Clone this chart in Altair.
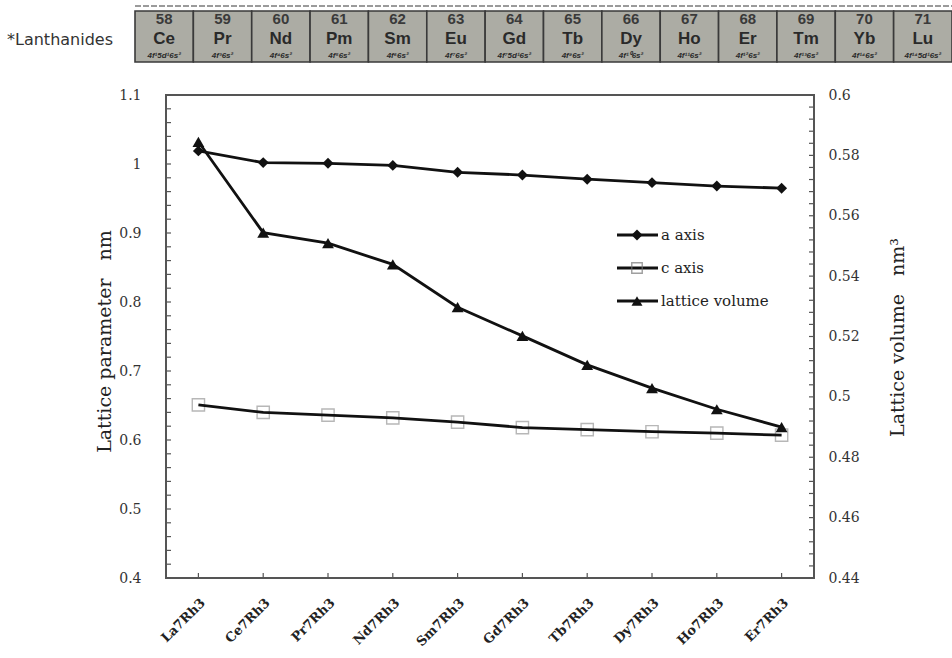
import altair as alt
import numpy as np
import pandas as pd

# R7Rh3 lattice data
compounds = ["La7Rh3", "Ce7Rh3", "Pr7Rh3", "Nd7Rh3", "Sm7Rh3",
             "Gd7Rh3", "Tb7Rh3", "Dy7Rh3", "Ho7Rh3", "Er7Rh3"]
a_axis = [1.019, 1.002, 1.001, 0.998, 0.988, 0.984, 0.978, 0.973, 0.968, 0.965]
c_axis = [0.651, 0.640, 0.636, 0.632, 0.626, 0.618, 0.615, 0.612, 0.610, 0.607]
volume = [0.5845, 0.5544, 0.5509, 0.5439, 0.5297, 0.5202, 0.5106, 0.5029, 0.4959, 0.4900]

# Lanthanide row of the periodic table
lan_numbers = ["58", "59", "60", "61", "62", "63", "64", "65", "66", "67", "68", "69", "70", "71"]
lan_symbols = ["Ce", "Pr", "Nd", "Pm", "Sm", "Eu", "Gd", "Tb", "Dy", "Ho", "Er", "Tm", "Yb", "Lu"]
lan_configs = ["4f¹5d¹6s²", "4f³6s²", "4f⁴6s²", "4f⁵6s²", "4f⁶6s²", "4f⁷6s²", "4f⁷5d¹6s²",
               "4f⁹6s²", "4f¹⁰6s²", "4f¹¹6s²", "4f¹²6s²", "4f¹³6s²", "4f¹⁴6s²", "4f¹⁴5d¹6s²"]

legend_labels = ["a axis", "c axis", "lattice volume"]

left_ticks = np.round(np.arange(0.40, 1.1001, 0.02), 3)
right_ticks = np.round(np.arange(0.44, 0.6001, 0.004), 3)

W, H = 648, 483
SERIF = "DejaVu Serif"
SANS = "Liberation Sans"
INK = "#111111"
FRAME = "#555555"
GAP = "\u00a0\u00a0\u00a0"

df = pd.DataFrame({"compound": compounds, "a": a_axis, "c": c_axis, "v": volume})

x_main = alt.X(
    "compound:N", sort=compounds,
    scale=alt.Scale(type="point", padding=0.5),
    axis=alt.Axis(title=None, labelAngle=315, ticks=False, domain=False, grid=False,
                  labelFont=SERIF, labelFontSize=13, labelFontWeight="bold",
                  labelColor="#222222", labelPadding=18),
)
x_hidden = alt.X("compound:N", sort=compounds,
                 scale=alt.Scale(type="point", padding=0.5), axis=None)

left_scale = alt.Scale(domain=[0.4, 1.1], nice=False, zero=False)
right_scale = alt.Scale(domain=[0.44, 0.6], nice=False, zero=False)

left_axis = alt.Axis(
    orient="left", values=[0.4, 0.5, 0.6, 0.7, 0.8, 0.9, 1.0, 1.1], format="~g",
    ticks=False, domain=False, grid=False,
    labelFont=SERIF, labelFontSize=14, labelColor="#333333", labelPadding=25,
    title="Lattice parameter" + GAP + "nm", titleFont=SERIF, titleFontSize=19,
    titleFontWeight="normal", titleColor="#222222", titleAngle=270,
    titleX=-62, titleY=246, titleAlign="center", titleBaseline="middle",
)
right_axis = alt.Axis(
    orient="right", values=[0.44, 0.46, 0.48, 0.5, 0.52, 0.54, 0.56, 0.58, 0.6], format="~g",
    ticks=False, domain=False, grid=False,
    labelFont=SERIF, labelFontSize=14, labelColor="#333333", labelPadding=14,
    title="Lattice volume" + GAP + "nm³", titleFont=SERIF, titleFontSize=19,
    titleFontWeight="normal", titleColor="#222222", titleAngle=270,
    titleX=83, titleY=242, titleAlign="center", titleBaseline="middle",
)


def ly(field):
    return alt.Y(field, scale=left_scale, axis=left_axis)


def ry(field):
    return alt.Y(field, scale=right_scale, axis=right_axis)


base = alt.Chart(df)

# left-axis series: a and c lattice parameters
c_squares = base.mark_point(shape="square", size=150, filled=False,
                            stroke="#999999", strokeWidth=1.4).encode(x=x_main, y=ly("c:Q"))
c_line = base.mark_line(color=INK, strokeWidth=2.8).encode(x=x_main, y=ly("c:Q"))
a_line = base.mark_line(color=INK, strokeWidth=2.8).encode(x=x_main, y=ly("a:Q"))
a_pts = base.mark_point(shape="diamond", size=120, filled=True, color=INK,
                        opacity=1).encode(x=x_main, y=ly("a:Q"))

left_tick_marks = alt.Chart(pd.DataFrame({"t": left_ticks})).mark_rule(
    color=FRAME, strokeWidth=1.2).encode(y=ly("t:Q"), x=alt.value(0), x2=alt.value(5))
bottom_ticks = alt.Chart(pd.DataFrame({"compound": compounds})).mark_rule(
    color=FRAME, strokeWidth=1.2).encode(x=x_main, y=alt.value(H), y2=alt.value(H - 5))

# legend drawn inside the plot
legend_rows = [140, 173, 206]
legend_shapes = ["diamond", "square", "triangle-up"]
legend_layers = []
for label, row, shape in zip(legend_labels, legend_rows, legend_shapes):
    ldf = pd.DataFrame({"label": [label]})
    legend_layers.append(alt.Chart(ldf).mark_rule(color=INK, strokeWidth=2.8).encode(
        x=alt.value(451), x2=alt.value(492), y=alt.value(row)))
    if shape == "square":
        legend_layers.append(alt.Chart(ldf).mark_point(
            shape=shape, size=110, filled=False, stroke="#777777", strokeWidth=1.4).encode(
            x=alt.value(471), y=alt.value(row)))
    else:
        legend_layers.append(alt.Chart(ldf).mark_point(
            shape=shape, size=120, filled=True, color=INK, opacity=1).encode(
            x=alt.value(471), y=alt.value(row)))
    legend_layers.append(alt.Chart(ldf).mark_text(
        align="left", baseline="middle", font=SERIF, fontSize=15, color="#222222").encode(
        x=alt.value(495), y=alt.value(row), text="label:N"))

left_group = alt.layer(c_squares, c_line, a_line, a_pts, left_tick_marks, bottom_ticks,
                       *legend_layers)

# right-axis series: cell volume
v_line = base.mark_line(color=INK, strokeWidth=2.8).encode(x=x_hidden, y=ry("v:Q"))
v_pts = base.mark_point(shape="triangle-up", size=140, filled=True, color=INK,
                        opacity=1).encode(x=x_hidden, y=ry("v:Q"))
right_tick_marks = alt.Chart(pd.DataFrame({"t": right_ticks})).mark_rule(
    color=FRAME, strokeWidth=1.2).encode(y=ry("t:Q"), x=alt.value(W - 5), x2=alt.value(W))
right_group = alt.layer(v_line, v_pts, right_tick_marks)

# lanthanide strip above the plot
pt = pd.DataFrame({"num": lan_numbers, "sym": lan_symbols, "conf": lan_configs})
x_strip = alt.X("sym:N", sort=lan_symbols,
                scale=alt.Scale(type="band", range=[-31, 786], paddingInner=0, paddingOuter=0),
                axis=None)
strip_cells = alt.Chart(pt).mark_rect(fill="#acaca4", stroke="#3a3a3a", strokeWidth=1.6).encode(
    x=x_strip, y=alt.value(-84), y2=alt.value(-33))
strip_num = alt.Chart(pt).mark_text(font=SANS, fontSize=15, fontWeight="bold",
                                    color="#3a3a3a", baseline="middle").encode(
    x=x_strip, y=alt.value(-76), text="num:N")
strip_sym = alt.Chart(pt).mark_text(font=SANS, fontSize=17, fontWeight="bold",
                                    color="#2a2a2a", baseline="middle").encode(
    x=x_strip, y=alt.value(-56), text="sym:N")
strip_conf = alt.Chart(pt).mark_text(font=SANS, fontSize=8, fontStyle="italic",
                                     fontWeight="bold", color="#2a2a2a",
                                     baseline="middle").encode(
    x=x_strip, y=alt.value(-39), text="conf:N")
strip_top = alt.Chart(pt).mark_rule(color="#9a9a9a", strokeWidth=1, strokeDash=[6, 2]).encode(
    x=alt.value(-31), x2=alt.value(786), y=alt.value(-89))
strip_title = alt.Chart(pd.DataFrame({"t": ["*Lanthanides"]})).mark_text(
    font="DejaVu Sans", fontSize=16, color="#333333", align="left", baseline="middle").encode(
    x=alt.value(-159), y=alt.value(-55), text="t:N")
strip_group = alt.layer(strip_top, strip_cells, strip_num, strip_sym, strip_conf, strip_title)

chart = alt.layer(left_group, right_group, strip_group).resolve_scale(
    x="independent", y="independent"
).properties(
    width=W, height=H,
    autosize=alt.AutoSizeParams(type="none"),
    padding={"left": 166, "top": 95, "right": 138, "bottom": 80},
    background="white",
).configure_view(stroke=FRAME, strokeWidth=2)

chart.save("out.html", embed_options={"renderer": "svg", "actions": False})
